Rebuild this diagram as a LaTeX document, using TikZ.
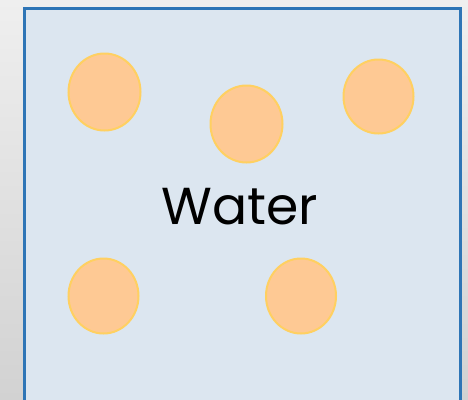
\documentclass[tikz,border=0pt]{standalone}
\usepackage{fontspec}
\setmainfont{Poppins}
\definecolor{bgtop}{HTML}{EFEFEF}
\definecolor{bgbot}{HTML}{D2D2D2}
\definecolor{boxfill}{HTML}{DCE6F0}
\definecolor{boxline}{HTML}{2E75B6}
\definecolor{partfill}{HTML}{FEC994}
\definecolor{partline}{HTML}{FFD061}
\tikzset{
  particle/.style={ellipse, draw=partline, fill=partfill, line width=2pt, inner sep=0pt},
}
\usetikzlibrary{shapes.geometric}
\begin{document}
\begin{tikzpicture}[x=1pt,y=-1pt]
\useasboundingbox (0,0) rectangle (468,399);
\shade[top color=bgtop, bottom color=bgbot] (0,0) rectangle (468,399);
\draw[boxline, fill=boxfill, line width=2.5pt] (24.5,8.5) rectangle (460.5,410);
\node[particle, minimum width=72pt, minimum height=77pt] (p1) at (104.5,92) {};
\node[particle, minimum width=72pt, minimum height=77pt] (p2) at (246.5,124) {};
\node[particle, minimum width=70pt, minimum height=74pt] (p3) at (378.5,96.5) {};
\node[particle, minimum width=70pt, minimum height=75pt] (p4) at (103.5,296) {};
\node[particle, minimum width=70pt, minimum height=75pt] (p5) at (301,296) {};
\node[font=\fontsize{52}{60}\selectfont, inner sep=0pt] (w) at (240,207) {Water};
\end{tikzpicture}
\end{document}
